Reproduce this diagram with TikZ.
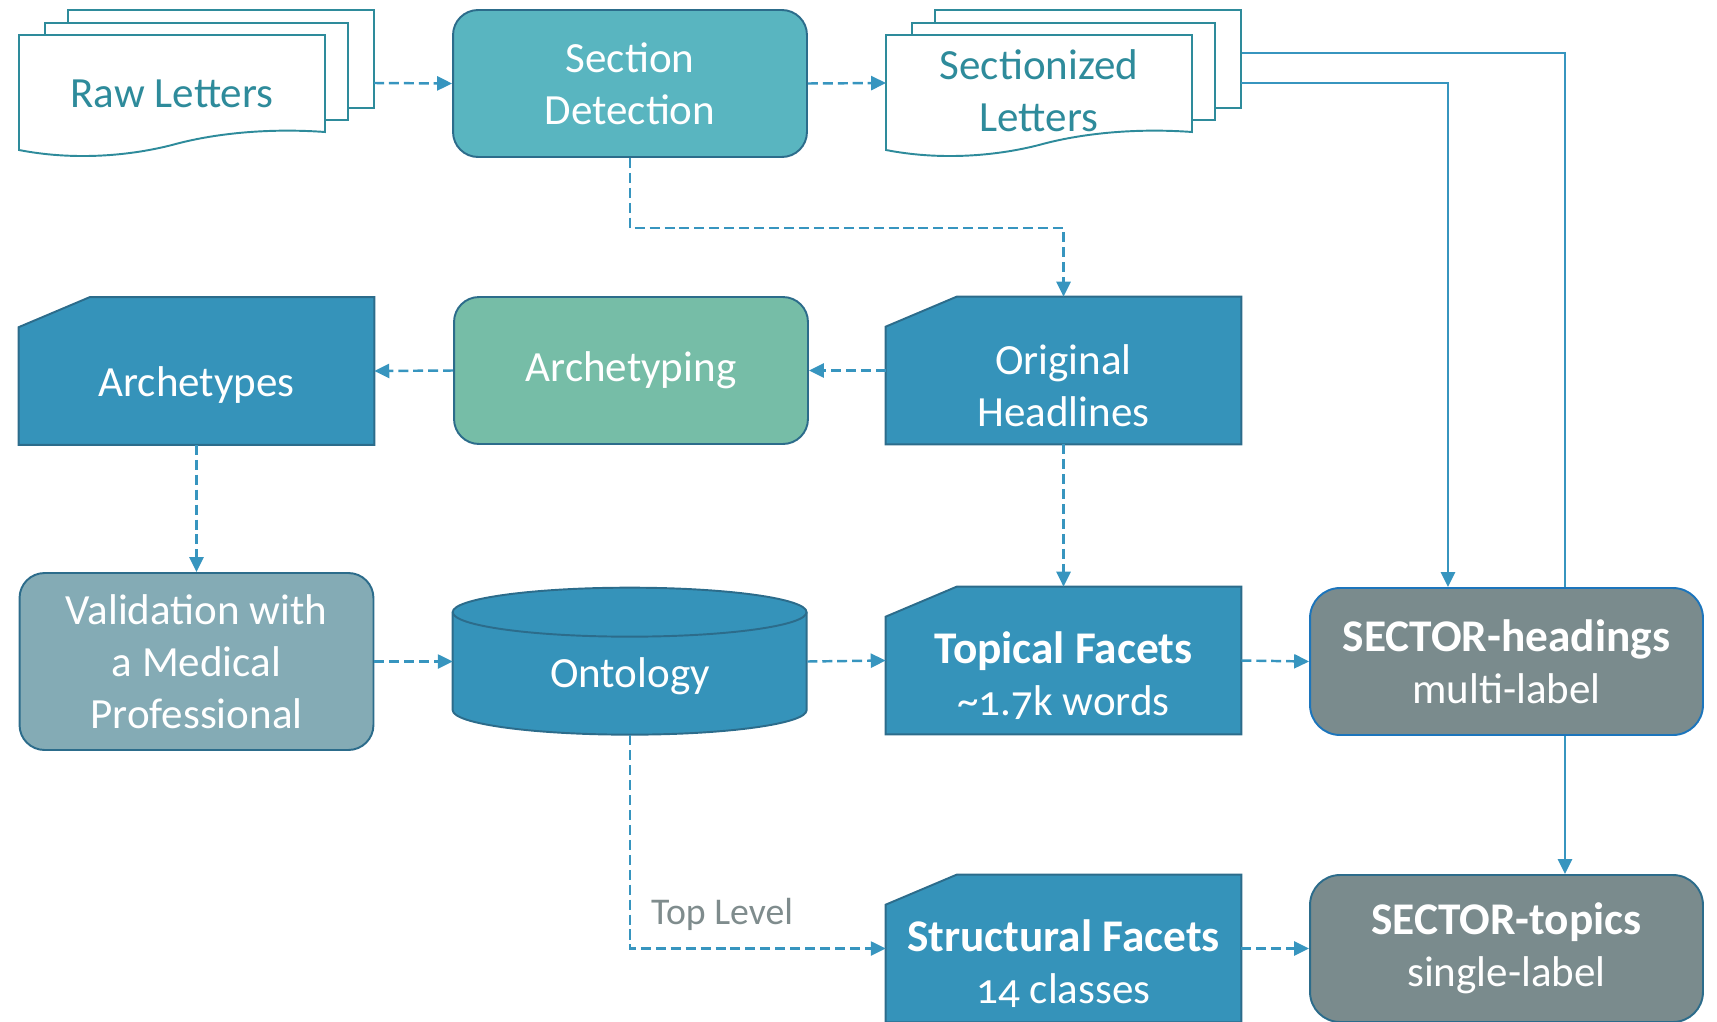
\documentclass[tikz,border=0pt]{standalone}
\usepackage{fontspec}
\setmainfont{Carlito}[Numbers=OldStyle]
\usepackage{tikz}
\usetikzlibrary{positioning,arrows.meta,backgrounds}
\definecolor{doc}{HTML}{2E8B9B}
\definecolor{edge}{HTML}{2C6C8B}
\definecolor{detect}{HTML}{59B5C0}
\definecolor{archgreen}{HTML}{76BDA7}
\definecolor{validgray}{HTML}{84ABB5}
\definecolor{store}{HTML}{3593BA}
\definecolor{modelgray}{HTML}{7A8B8D}
\definecolor{modeledge}{HTML}{1C75BC}
\definecolor{flowc}{HTML}{3795BF}
\definecolor{note}{HTML}{7F8C8D}
\newcommand\headtext[1]{{\fontsize{25.8}{29.5}\selectfont\bfseries #1}}

\begin{document}
\begin{tikzpicture}[x=0.02cm, y=-0.02cm,
    font=\fontsize{24.5}{29.5}\selectfont,
    process/.style={draw=edge, line width=1.1pt, rounded corners=0.5cm, minimum width=7.08cm,
      minimum height=2.94cm, inner sep=0pt, text=white, align=center},
    facet/.style={minimum width=7.1cm, minimum height=2.94cm, inner sep=0pt},
    facetline/.style={draw=edge, fill=store, line width=1.1pt},
    facettext/.style={text=white, align=center},
    model/.style={line width=1.1pt, rounded corners=0.6cm, minimum width=7.86cm,
      minimum height=2.94cm, inner sep=0pt, fill=modelgray, text=white, align=center},
    page/.style={draw=doc, line width=1.1pt, fill=white},
    flow/.style={draw=flowc, line width=1.4pt, dash pattern=on 5.7pt off 2.8pt,
      -{Triangle[length=8.5pt,width=8pt]}},
    feed/.style={draw=flowc, line width=1.4pt, -{Triangle[length=8.5pt,width=8pt]}}]
  \useasboundingbox (0,0) rectangle (1717,1021);

  % letter stacks
  \foreach \dx in {0,867} {
    \draw[page] (68+\dx,10) rectangle (374+\dx,108);
    \draw[page] (45+\dx,23) rectangle (348+\dx,120);
    \draw[page] (19+\dx,35) -- (325+\dx,35) -- (325+\dx,132)
      .. controls (270+\dx,128) and (215+\dx,133) .. (172+\dx,145)
      .. controls (125+\dx,157) and (70+\dx,160) .. (19+\dx,150) -- cycle;
  }
  \node[text=doc] (raw) at (172,94) {Raw Letters};
  \node[text=doc, align=center] (secd) at (1039,91) {Sectionized\\Letters};
  \coordinate (raw out) at (374,83);
  \coordinate (secd in) at (886,83);
  \coordinate (secd out a) at (1241,53);
  \coordinate (secd out b) at (1241,83);

  \node[process, fill=detect] (sect) at (630,83.5) {Section\\Detection};
  \node[process, fill=archgreen] (arching) at (631,370.5) {Archetyping};
  \node[process, fill=validgray, minimum height=3.54cm] (valid) at (196.5,661.5)
    {Validation with\\a Medical\\Professional};

  % facet sheets with a cut corner
  \node[facet] (archs) at (196.5,371) {};
  \node[facet] (orig) at (1063.5,370.5) {};
  \node[facet] (topical) at (1063.5,660.5) {};
  \node[facet] (struct) at (1063.5,948.5) {};
  \foreach \n in {archs,orig,topical,struct}
    \draw[facetline] ([yshift=-0.6cm]\n.north west) -- ([xshift=1.42cm]\n.north west)
      -- (\n.north east) -- (\n.south east) -- (\n.south west) -- cycle;
  \node[facettext] (archs text) at (196.5,385) {Archetypes};
  \node[facettext] (orig text) at (1063.5,386) {Original\\Headlines};
  \node[facettext] (topical text) at (1063.5,676) {\headtext{Topical Facets}\\\string~1.7k words};
  \node[facettext] (struct text) at (1063.5,964) {\headtext{Structural Facets}\\14 classes};

  % ontology store
  \node[minimum width=7.08cm, minimum height=2.94cm, inner sep=0pt] (onto) at (630,661.5) {};
  \draw[draw=edge, fill=store, line width=1.1pt] (onto.north west) ++(0,24.5) -- ++(0,98)
    arc[start angle=180, end angle=360, x radius=3.54cm, y radius=0.49cm] -- ++(0,-98)
    arc[start angle=0, end angle=180, x radius=3.54cm, y radius=0.49cm] -- cycle;
  \draw[draw=edge, line width=1.1pt] (onto.north west) ++(0,24.5)
    arc[start angle=180, end angle=360, x radius=3.54cm, y radius=0.49cm];
  \node[text=white] (onto text) at (630,676) {Ontology};

  \node[model, draw=modeledge] (headings) at (1506.5,661.5) {\headtext{SECTOR-headings}\\multi-label};
  \node[model, draw=edge] (topics) at (1506.5,948.5) {\headtext{SECTOR-topics}\\single-label};

  \draw[flow] (raw out) -- (sect.west);
  \draw[flow] (sect.east) -- (secd in);
  \draw[flow] (sect.south) -- ++(0,70) -| (orig.north);
  \draw[flow] (orig.west) -- (arching.east);
  \draw[flow] (arching.west) -- (archs.east);
  \draw[flow] (archs.south) -- (valid.north);
  \draw[flow] (valid.east) -- (onto.west);
  \draw[flow] (onto.east) -- (topical.west);
  \draw[flow] (orig.south) -- (topical.north);
  \draw[flow] (topical.east) -- (headings.west);
  \draw[flow] (onto.south) |- (struct.west);
  \node[text=note, font=\fontsize{21.5}{25}\selectfont] (top level) at (722,914) {Top Level};
  \draw[flow] (struct.east) -- (topics.west);

  \draw[feed] (secd out b) -| ([xshift=-1.17cm]headings.north);
  \begin{pgfonlayer}{background}
    \draw[feed] (secd out a) -| ([xshift=1.17cm]topics.north);
  \end{pgfonlayer}
\end{tikzpicture}
\end{document}
